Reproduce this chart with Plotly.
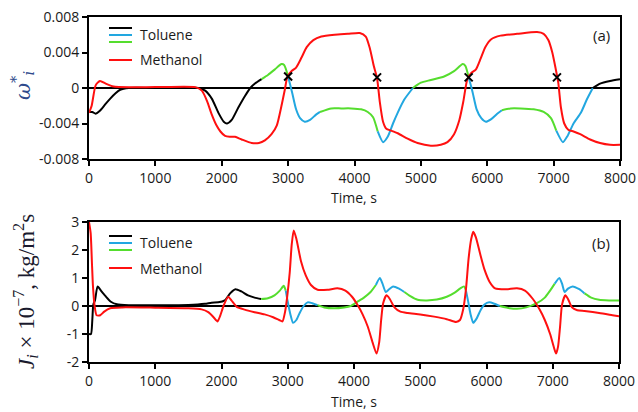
import numpy as np
import plotly.graph_objects as go

# ---------------- data ----------------
# (a) dimensionless mass fraction deviation
top_tol_t = [0, 50, 100, 160, 250, 320, 400, 470, 600, 1000, 1500, 1650, 1750, 1850, 1950, 2030,
             2080, 2150, 2250, 2350, 2430, 2500, 2600, 2700, 2800, 2900, 2940, 3000, 3060, 3120,
             3180, 3250, 3330, 3420, 3480, 3650, 3800, 3950, 4100, 4200, 4280, 4350, 4430, 4500,
             4580, 4650, 4750, 4880, 5000, 5150, 5350, 5500, 5630, 5670, 5720, 5780, 5840, 5910,
             5980, 6060, 6150, 6220, 6350, 6500, 6700, 6850, 6960, 7040, 7140, 7210, 7300, 7410,
             7500, 7590, 7700, 7850, 8000]
top_tol_v = [-0.0027, -0.0027, -0.0029, -0.0026, -0.0018, -0.0012, -0.0006, -0.0002, 0.0, 0.0, 0.0,
             0.0, -0.0003, -0.0012, -0.0028, -0.0038, -0.0040, -0.0036, -0.0022, -0.0009, 0.0,
             0.0005, 0.0010, 0.0015, 0.0021, 0.0027, 0.0026, 0.0013, -0.0005, -0.0024, -0.0034,
             -0.0038, -0.0036, -0.0030, -0.0027, -0.0023, -0.0023, -0.0023, -0.0024, -0.0027,
             -0.0033, -0.0049, -0.0061, -0.0055, -0.0040, -0.0028, -0.0013, 0.0, 0.0006, 0.0009,
             0.0013, 0.0019, 0.0027, 0.0025, 0.0012, -0.0005, -0.0024, -0.0034, -0.0038, -0.0035,
             -0.0029, -0.0025, -0.0023, -0.0023, -0.0024, -0.0027, -0.0034, -0.0048, -0.0061,
             -0.0054, -0.0040, -0.0028, -0.0013, 0.0, 0.0005, 0.0008, 0.0010]
top_tol_breaks = [0, 2600, 3000, 3480, 4350, 4880, 5720, 6220, 7040, 7590]
top_tol_colors = ["black", "green", "blue", "green", "blue", "green", "blue", "green", "blue", "black"]

top_met_t = [0, 40, 100, 165, 250, 350, 450, 1000, 1600, 1700, 1780, 1850, 1920, 1980, 2050, 2120,
             2200, 2300, 2450, 2560, 2650, 2750, 2830, 2900, 2950, 2990, 3050, 3120, 3200, 3280,
             3380, 3500, 3700, 3900, 4080, 4170, 4230, 4290, 4340, 4380, 4430, 4480, 4550, 4650,
             4800, 4950, 5150, 5300, 5400, 5500, 5580, 5640, 5700, 5760, 5830, 5900, 5970, 6060,
             6200, 6450, 6750, 6850, 6920, 6980, 7030, 7070, 7110, 7160, 7220, 7300, 7400, 7550,
             7700, 7850, 8000]
top_met_v = [-0.0028, -0.0020, 0.0003, 0.0008, 0.0005, 0.0002, 0.0001, 0.0001, 0.0001, -0.0003,
             -0.0015, -0.0030, -0.0042, -0.0049, -0.0054, -0.0055, -0.0055, -0.0058, -0.0062,
             -0.0062, -0.0059, -0.0052, -0.0042, -0.0020, -0.0002, 0.0013, 0.0019, 0.0023, 0.0034,
             0.0046, 0.0054, 0.0058, 0.0060, 0.0061, 0.0062, 0.0058, 0.0045, 0.0025, 0.0011,
             -0.0015, -0.0038, -0.0046, -0.0048, -0.0051, -0.0057, -0.0062, -0.0065, -0.0064,
             -0.0061, -0.0052, -0.0036, -0.0015, 0.0010, 0.0017, 0.0021, 0.0033, 0.0046, 0.0055,
             0.0059, 0.0061, 0.0063, 0.0061, 0.0054, 0.0040, 0.0022, 0.0006, -0.0022, -0.0040,
             -0.0047, -0.0049, -0.0052, -0.0058, -0.0062, -0.0064, -0.0064]

cross_t = [3000, 4340, 5720, 7050]
cross_v = [0.0013, 0.0012, 0.0012, 0.0012]

# (b) mass flux, 1e-7 kg/m^2 s
bot_tol_t = [0, 30, 50, 65, 90, 130, 180, 250, 330, 420, 600, 1000, 1500, 1750, 1850, 1950, 2050,
             2130, 2210, 2300, 2400, 2500, 2600, 2700, 2800, 2880, 2940, 2970, 3000, 3040, 3080,
             3130, 3180, 3240, 3300, 3370, 3450, 3550, 3700, 3850, 3950, 4050, 4150, 4250, 4330,
             4390, 4430, 4480, 4530, 4590, 4680, 4760, 4850, 4960, 5100, 5250, 5400, 5520, 5600,
             5660, 5690, 5720, 5760, 5800, 5850, 5910, 5970, 6040, 6120, 6200, 6350, 6460, 6600,
             6760, 6880, 6960, 7030, 7100, 7140, 7180, 7230, 7300, 7400, 7480, 7580, 7700, 7850,
             8000]
bot_tol_v = [-1.0, -1.0, -0.5, 0.05, 0.2, 0.7, 0.55, 0.35, 0.15, 0.06, 0.03, 0.03, 0.04, 0.08,
             0.12, 0.13, 0.2, 0.45, 0.6, 0.52, 0.38, 0.3, 0.25, 0.28, 0.38, 0.55, 0.72, 0.55, 0.15,
             -0.3, -0.6, -0.5, -0.25, 0.0, 0.13, 0.1, 0.03, -0.05, -0.08, -0.05, 0.0, 0.15, 0.3,
             0.5, 0.75, 1.0, 0.8, 0.5, 0.6, 0.7, 0.62, 0.5, 0.35, 0.22, 0.2, 0.23, 0.33, 0.48,
             0.62, 0.7, 0.55, 0.2, -0.3, -0.6, -0.45, -0.15, 0.05, 0.13, 0.08, 0.0, -0.08, -0.1,
             -0.05, 0.1, 0.3, 0.55, 0.8, 1.0, 0.8, 0.5, 0.62, 0.7, 0.6, 0.45, 0.3, 0.22, 0.2, 0.2]
bot_tol_breaks = [0, 2600, 2970, 3450, 4330, 4760, 5690, 6200, 7030, 7480]
bot_tol_colors = ["black", "green", "blue", "green", "blue", "green", "blue", "green", "blue", "green"]

bot_met_t = [0, 25, 45, 60, 85, 115, 170, 230, 320, 500, 1000, 1500, 1700, 1800, 1880, 1940, 1980,
             2030, 2100, 2150, 2230, 2350, 2500, 2650, 2780, 2870, 2920, 2960, 2990, 3030, 3060,
             3090, 3130, 3200, 3270, 3350, 3450, 3600, 3750, 3870, 3970, 4050, 4130, 4210, 4280,
             4340, 4380, 4410, 4440, 4490, 4540, 4610, 4700, 4810, 5000, 5210, 5400, 5540, 5600,
             5650, 5690, 5730, 5770, 5800, 5840, 5900, 5970, 6050, 6130, 6300, 6460, 6580, 6700,
             6800, 6880, 6960, 7020, 7050, 7080, 7110, 7140, 7190, 7230, 7290, 7370, 7480, 7700,
             7900, 8000]
bot_met_v = [3.0, 2.6, 1.5, 0.7, 0.0, -0.33, -0.33, -0.2, -0.08, -0.05, -0.06, -0.08, -0.12, -0.22,
             -0.4, -0.55, -0.35, 0.0, 0.33, 0.2, -0.03, -0.13, -0.22, -0.3, -0.4, -0.5, -0.55,
             -0.2, 0.3, 1.2, 2.2, 2.7, 2.4, 1.6, 1.1, 0.75, 0.58, 0.58, 0.63, 0.55, 0.33, 0.05,
             -0.3, -0.75, -1.3, -1.7, -1.3, -0.5, 0.1, 0.38, 0.25, -0.05, -0.2, -0.25, -0.3, -0.38,
             -0.47, -0.57, -0.5, -0.1, 0.6, 1.7, 2.4, 2.65, 2.45, 1.9, 1.3, 0.85, 0.63, 0.6, 0.63,
             0.55, 0.25, -0.12, -0.5, -1.0, -1.5, -1.7, -1.45, -0.75, 0.05, 0.38, 0.25, -0.05,
             -0.15, -0.18, -0.25, -0.33, -0.37]

x_ticks = [0, 1000, 2000, 3000, 4000, 5000, 6000, 7000, 8000]
x_labels = ["0", "1000", "2000", "3000", "4000", "5000", "6000", "7000", "8000"]
top_y_ticks = [-0.008, -0.004, 0, 0.004, 0.008]
top_y_labels = ["-0.008", "-0.004", "0", "0.004", "0.008"]
bot_y_ticks = [-2, -1, 0, 1, 2, 3]
bot_y_labels = ["-2", "-1", "0", "1", "2", "3"]

# ---------------- styling ----------------
COL = {"black": "#000000", "blue": "#22A7E0", "green": "#55DD2E", "red": "#FF1010"}
W, H = 638, 412
FONT = "Open Sans"
LW = 2


def px(x):
    return x / W


def py(y):
    return 1 - y / H


fig = go.Figure()


def add_segments(t, v, breaks, colors, xa, ya):
    t = np.asarray(t)
    v = np.asarray(v)
    ends = breaks[1:] + [t.max()]
    for start, end, c in zip(breaks, ends, colors):
        m = (t >= start) & (t <= end)
        fig.add_trace(go.Scatter(x=t[m], y=v[m], mode="lines", xaxis=xa, yaxis=ya,
                                 line=dict(color=COL[c], width=LW, shape="spline", smoothing=0.6),
                                 showlegend=False, hoverinfo="skip"))


add_segments(top_tol_t, top_tol_v, top_tol_breaks, top_tol_colors, "x", "y")
fig.add_trace(go.Scatter(x=top_met_t, y=top_met_v, mode="lines", xaxis="x", yaxis="y",
                         line=dict(color=COL["red"], width=LW, shape="spline", smoothing=0.6),
                         showlegend=False))
fig.add_trace(go.Scatter(x=cross_t, y=cross_v, mode="markers", xaxis="x", yaxis="y",
                         marker=dict(symbol="x-thin", size=8, line=dict(color="black", width=2)),
                         showlegend=False))

add_segments(bot_tol_t, bot_tol_v, bot_tol_breaks, bot_tol_colors, "x2", "y2")
fig.add_trace(go.Scatter(x=bot_met_t, y=bot_met_v, mode="lines", xaxis="x2", yaxis="y2",
                         line=dict(color=COL["red"], width=LW, shape="spline", smoothing=0.6),
                         showlegend=False))

axis_common = dict(showline=True, linecolor="black", linewidth=2, mirror=True,
                   ticks="outside", ticklen=5, tickwidth=1.5, tickcolor="black",
                   showgrid=False, automargin=False,
                   tickfont=dict(family=FONT, size=14, color="#1a1a1a"))

fig.update_layout(
    width=W, height=H, margin=dict(l=0, r=0, t=0, b=0, autoexpand=False),
    paper_bgcolor="white", plot_bgcolor="white", showlegend=False,
    xaxis=dict(domain=[px(89), px(620)], range=[0, 8000], anchor="y", zeroline=False,
               tickvals=x_ticks, ticktext=x_labels, **axis_common),
    yaxis=dict(domain=[py(159), py(17)], range=[-0.008, 0.008], anchor="x",
               zeroline=True, zerolinecolor="black", zerolinewidth=1.5,
               tickvals=top_y_ticks, ticktext=top_y_labels, **axis_common),
    xaxis2=dict(domain=[px(89), px(619)], range=[0, 8000], anchor="y2", zeroline=False,
                tickvals=x_ticks, ticktext=x_labels, **axis_common),
    yaxis2=dict(domain=[py(362), py(222)], range=[-2, 3], anchor="x2",
                zeroline=True, zerolinecolor="black", zerolinewidth=1.5,
                tickvals=bot_y_ticks, ticktext=bot_y_labels, **axis_common),
)

shapes = []
annotations = []


def legend(y_tol, y_met):
    # three stacked strokes for the piecewise-coloured toluene curve, one for methanol
    for dy, c in zip((-7, 0, 7), ("black", "blue", "green")):
        shapes.append(dict(type="line", xref="paper", yref="paper",
                           x0=px(109), x1=px(132), y0=py(y_tol + dy), y1=py(y_tol + dy),
                           line=dict(color=COL[c], width=2)))
    shapes.append(dict(type="line", xref="paper", yref="paper",
                       x0=px(109), x1=px(132), y0=py(y_met), y1=py(y_met),
                       line=dict(color=COL["red"], width=2)))
    for yy, txt in ((y_tol, "Toluene"), (y_met, "Methanol")):
        annotations.append(dict(xref="paper", yref="paper", x=px(138), y=py(yy), text=txt,
                                showarrow=False, xanchor="left", yanchor="middle",
                                font=dict(family=FONT, size=14, color="#1a1a1a")))


legend(35, 60)
legend(243, 268)

annotations += [
    dict(xref="paper", yref="paper", x=px(612), y=py(35), text="(a)", showarrow=False,
         xanchor="right", yanchor="middle", font=dict(family=FONT, size=15, color="#1a1a1a")),
    dict(xref="paper", yref="paper", x=px(612), y=py(243), text="(b)", showarrow=False,
         xanchor="right", yanchor="middle", font=dict(family=FONT, size=15, color="#1a1a1a")),
    dict(xref="paper", yref="paper", x=px(354), y=py(197), text="Time, s", showarrow=False,
         xanchor="center", yanchor="middle", font=dict(family=FONT, size=14, color="#1a1a1a")),
    dict(xref="paper", yref="paper", x=px(354), y=py(401), text="Time, s", showarrow=False,
         xanchor="center", yanchor="middle", font=dict(family=FONT, size=14, color="#1a1a1a")),
    dict(xref="paper", yref="paper", x=px(22), y=py(86),
         text="<i>ω</i><sup>*</sup><sub><i>i</i></sub>", showarrow=False, textangle=-90,
         xanchor="center", yanchor="middle",
         font=dict(family="DejaVu Serif", size=21, color="#2E4A8C")),
    dict(xref="paper", yref="paper", x=px(25), y=py(292),
         text="<i>J<sub>i</sub></i> × 10<sup>−7</sup>, kg/m<sup>2</sup>s", showarrow=False,
         textangle=-90, xanchor="center", yanchor="middle",
         font=dict(family="Liberation Serif", size=23, color="#1a1a2e")),
]

fig.update_layout(shapes=shapes, annotations=annotations)
fig.write_html("out.html")
